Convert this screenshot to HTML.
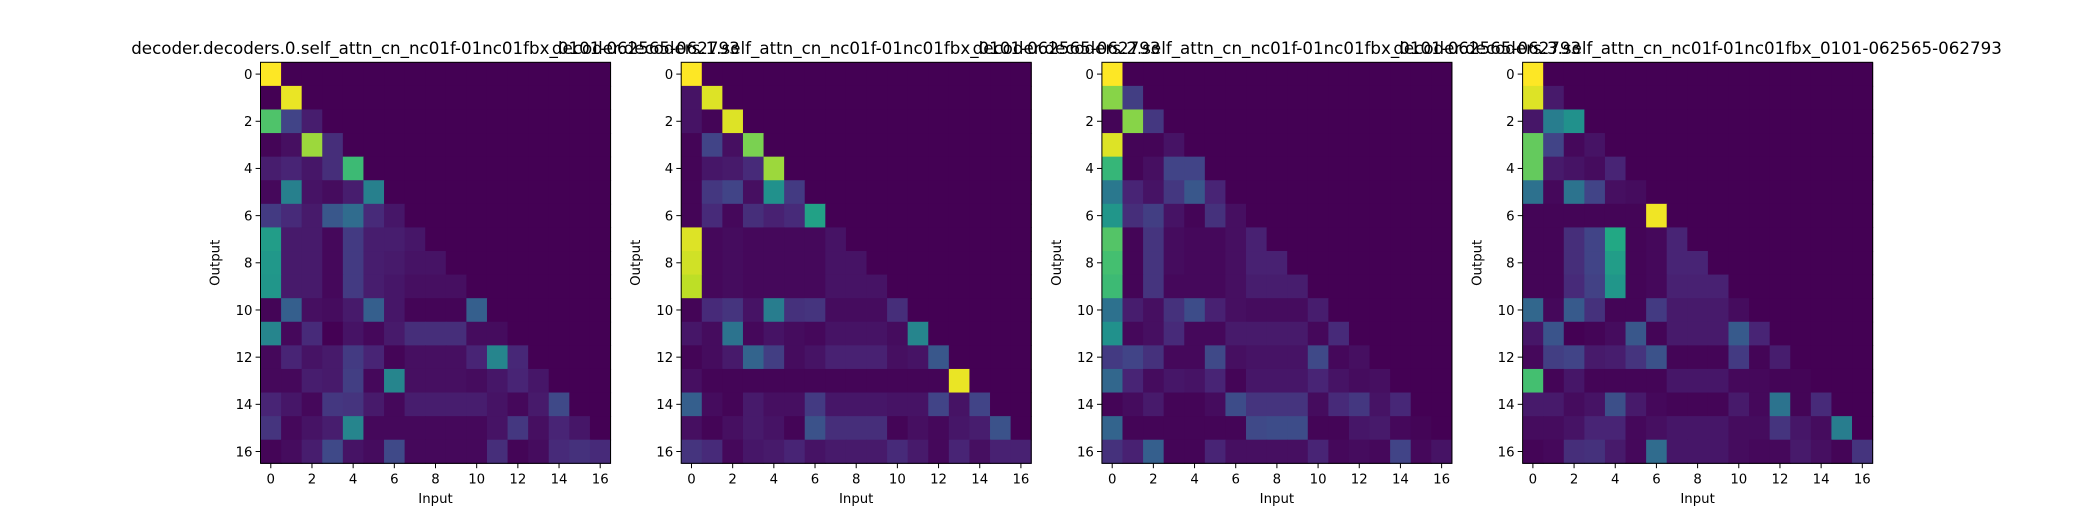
<!DOCTYPE html>
<html><head><meta charset="utf-8"><style>
html,body{margin:0;padding:0;background:#fff;}
svg{display:block;font-family:"DejaVu Sans","Liberation Sans",sans-serif;}
</style></head><body>
<svg id="chart" width="2080" height="520" viewBox="0 0 2080 520" xmlns="http://www.w3.org/2000/svg"></svg>
<script>
const titles = [
 "decoder.decoders.0.self_attn_cn_nc01f-01nc01fbx_0101-062565-062793",
 "decoder.decoders.1.self_attn_cn_nc01f-01nc01fbx_0101-062565-062793",
 "decoder.decoders.2.self_attn_cn_nc01f-01nc01fbx_0101-062565-062793",
 "decoder.decoders.3.self_attn_cn_nc01f-01nc01fbx_0101-062565-062793"
];
const tickLabels = [0,2,4,6,8,10,12,14,16];
const head0 = [
[1],[0,0.97],[0.72,0.2,0.08],[0.01,0.04,0.85,0.13],[0.08,0.1,0.06,0.13,0.68],
[0.02,0.43,0.05,0.03,0.08,0.43],[0.17,0.12,0.07,0.27,0.35,0.12,0.06],
[0.55,0.07,0.07,0.02,0.17,0.08,0.08,0.06],[0.53,0.07,0.07,0.02,0.17,0.08,0.07,0.05,0.05],
[0.52,0.07,0.07,0.02,0.17,0.08,0.06,0.04,0.04,0.04],[0.01,0.3,0.04,0.03,0.07,0.3,0.06,0.01,0.01,0.01,0.3],
[0.45,0.02,0.12,0.0,0.05,0.02,0.07,0.13,0.13,0.13,0.03,0.03],
[0.02,0.1,0.05,0.07,0.17,0.1,0.01,0.04,0.04,0.04,0.1,0.45,0.11],
[0.02,0.02,0.08,0.07,0.18,0.02,0.45,0.04,0.04,0.04,0.03,0.06,0.1,0.06],
[0.1,0.06,0.02,0.16,0.15,0.07,0.02,0.08,0.08,0.08,0.08,0.05,0.02,0.07,0.22],
[0.15,0.02,0.05,0.08,0.45,0.02,0.02,0.02,0.02,0.02,0.02,0.05,0.16,0.04,0.1,0.06],
[0.01,0.03,0.08,0.22,0.05,0.03,0.22,0.02,0.02,0.02,0.02,0.13,0.01,0.03,0.12,0.14,0.12]];
const head1 = [
[1],[0.05,0.95],[0.05,0.01,0.95],[0.01,0.2,0.04,0.8],[0.01,0.06,0.07,0.12,0.85],
[0.01,0.16,0.2,0.04,0.5,0.17],[0.01,0.12,0.02,0.13,0.09,0.12,0.57],
[0.95,0.02,0.03,0.02,0.02,0.02,0.02,0.05],[0.93,0.02,0.03,0.02,0.02,0.02,0.02,0.05,0.05],
[0.9,0.02,0.03,0.02,0.02,0.02,0.02,0.05,0.05,0.05],[0.01,0.12,0.15,0.05,0.42,0.14,0.15,0.03,0.03,0.03,0.13],
[0.06,0.03,0.38,0.02,0.05,0.03,0.02,0.05,0.05,0.05,0.03,0.45],
[0.01,0.03,0.07,0.32,0.18,0.03,0.05,0.09,0.09,0.09,0.04,0.05,0.27],
[0.04,0.01,0.01,0.01,0.01,0.01,0.01,0.01,0.01,0.01,0.01,0.01,0.01,0.97],
[0.3,0.03,0.01,0.07,0.04,0.04,0.17,0.06,0.06,0.06,0.05,0.05,0.2,0.05,0.2],
[0.04,0.01,0.04,0.07,0.05,0.01,0.25,0.13,0.13,0.13,0.01,0.04,0.02,0.06,0.08,0.25],
[0.15,0.12,0.02,0.06,0.07,0.1,0.05,0.07,0.07,0.07,0.12,0.07,0.02,0.1,0.04,0.09,0.09]];
const head2 = [
[1],[0.82,0.18],[0.01,0.82,0.16],[0.95,0.01,0.01,0.05],[0.66,0.01,0.04,0.2,0.2],
[0.4,0.1,0.05,0.16,0.27,0.1],[0.52,0.13,0.18,0.05,0.01,0.14,0.04],
[0.73,0.01,0.15,0.03,0.02,0.02,0.04,0.09],[0.7,0.01,0.15,0.03,0.02,0.02,0.04,0.09,0.09],
[0.68,0.01,0.15,0.02,0.02,0.02,0.04,0.08,0.08,0.08],[0.37,0.08,0.04,0.14,0.23,0.09,0.04,0.03,0.03,0.03,0.08],
[0.5,0.02,0.04,0.12,0.02,0.02,0.07,0.07,0.07,0.07,0.02,0.12],
[0.17,0.2,0.14,0.02,0.02,0.22,0.04,0.05,0.05,0.05,0.22,0.02,0.04],
[0.33,0.1,0.03,0.06,0.05,0.1,0.01,0.06,0.06,0.06,0.1,0.05,0.03,0.04],
[0.01,0.03,0.07,0.01,0.01,0.03,0.23,0.15,0.15,0.15,0.03,0.12,0.16,0.05,0.11],
[0.32,0.01,0.01,0.01,0.01,0.01,0.01,0.22,0.23,0.23,0.01,0.01,0.06,0.07,0.02,0.01],
[0.14,0.09,0.3,0.01,0.01,0.1,0.04,0.04,0.04,0.04,0.1,0.02,0.03,0.02,0.2,0.02,0.05]];
const head3 = [
[1],[0.95,0.07],[0.06,0.42,0.5],[0.76,0.2,0.02,0.05],[0.76,0.07,0.05,0.03,0.1],
[0.37,0.02,0.38,0.2,0.04,0.03],[0.01,0.01,0.01,0.01,0.01,0.01,0.98],
[0.01,0.01,0.13,0.2,0.6,0.01,0.02,0.1],[0.01,0.01,0.13,0.2,0.55,0.01,0.02,0.1,0.1],
[0.01,0.01,0.12,0.19,0.52,0.01,0.02,0.09,0.09,0.09],[0.33,0.02,0.28,0.14,0.01,0.01,0.17,0.07,0.07,0.07,0.03],
[0.06,0.26,0.0,0.01,0.03,0.27,0.01,0.07,0.07,0.07,0.28,0.1],
[0.02,0.18,0.2,0.07,0.08,0.15,0.25,0.01,0.01,0.01,0.17,0.01,0.08],
[0.7,0.01,0.06,0.01,0.01,0.01,0.01,0.06,0.06,0.06,0.02,0.02,0.01,0.01],
[0.07,0.07,0.03,0.05,0.24,0.07,0.02,0.01,0.01,0.01,0.07,0.02,0.38,0.01,0.12],
[0.03,0.03,0.05,0.1,0.1,0.02,0.04,0.06,0.06,0.06,0.03,0.03,0.15,0.06,0.03,0.42],
[0.01,0.02,0.13,0.14,0.07,0.02,0.35,0.06,0.06,0.06,0.03,0.02,0.02,0.07,0.04,0.01,0.15]];
const heads = [head0, head1, head2, head3];

const N = 17;
const stops = ["#440154","#482475","#414487","#355f8d","#2a788e","#21918c","#22a884","#44bf70","#7ad151","#bddf26","#fde725"];
function hex(h){return [1,3,5].map(i=>parseInt(h.substr(i,2),16));}
function viridis(v){
  v=Math.max(0,Math.min(1,v));const p=v*10,i=Math.min(9,Math.floor(p)),t=p-i;
  const a=hex(stops[i]),b=hex(stops[i+1]);
  return "rgb("+a.map((c,k)=>Math.round(c+(b[k]-c)*t)).join(",")+")";
}
const NS="http://www.w3.org/2000/svg";
const svg=document.getElementById("chart");
function mk(tag,attrs,parent){const e=document.createElementNS(NS,tag);for(const k in attrs)e.setAttribute(k,attrs[k]);(parent||svg).appendChild(e);return e;}
const X0=[260.5,681.2,1101.9,1522.6], W=350, Y0=62.3, H=401;
heads.forEach((m,p)=>{
  const g=mk("g",{});
  
  
  const xs=c=>X0[p]+(c+0.5)*W/N, ys=r=>Y0+(r+0.5)*H/N;
  const cw=W/N, ch=H/N;
  for(let r=0;r<N;r++)for(let c=0;c<N;c++){
    const v=(m[r]&&m[r][c]!==undefined)?m[r][c]:0;
    const rc=mk("rect",{x:xs(c)-cw/2,y:ys(r)-ch/2,width:cw+0.6,height:ch+0.6,fill:viridis(v)},g);
    
    
  }
  const fr=mk("rect",{x:X0[p],y:Y0,width:W,height:H,fill:"none",stroke:"#000","stroke-width":1},g);
  
  
  tickLabels.forEach(t=>{
    mk("line",{x1:xs(t),x2:xs(t),y1:Y0+H,y2:Y0+H+4.9,stroke:"#000","stroke-width":1},g);
    const tx=mk("text",{x:xs(t),y:Y0+H+20,"font-size":13.3,"text-anchor":"middle",fill:"#000"},g);
    tx.textContent=t;
    
    
    mk("line",{x1:X0[p]-4.9,x2:X0[p],y1:ys(t),y2:ys(t),stroke:"#000","stroke-width":1},g);
    const ty=mk("text",{x:X0[p]-8,y:ys(t)+4.8,"font-size":13.3,"text-anchor":"end",fill:"#000"},g);
    ty.textContent=t;
    
    
  });
  const xl=mk("text",{x:X0[p]+W/2,y:503,"font-size":13.3,"text-anchor":"middle",fill:"#000"},g);
  xl.textContent="Input";
  
  
  const yx=X0[p]-41, yy=Y0+H/2;
  const yl=mk("text",{x:yx,y:yy,"font-size":13.3,"text-anchor":"middle",fill:"#000",transform:"rotate(-90 "+yx+" "+yy+")"},g);
  yl.textContent="Output";
  
  
  const tt=mk("text",{x:X0[p]+W/2,y:54,"font-size":16.7,"text-anchor":"middle",fill:"#000"},g);
  tt.textContent=titles[p];
  
  
});
</script>
</body></html>
